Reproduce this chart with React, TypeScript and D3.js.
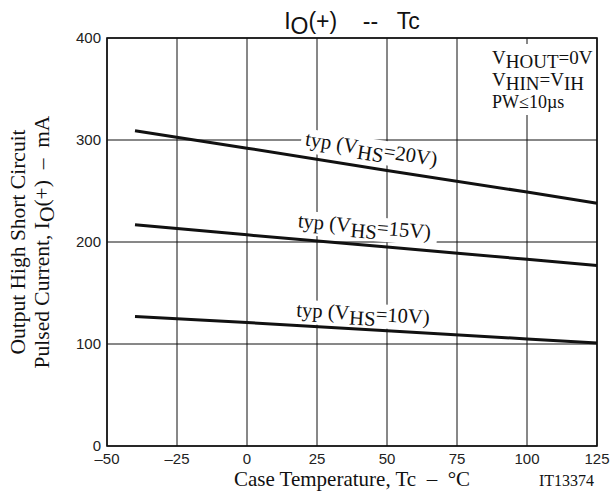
import React from "react";
import * as d3 from "d3";

const xTicks = [-50, -25, 0, 25, 50, 75, 100, 125];
const xTickLabels = ["–50", "–25", "0", "25", "50", "75", "100", "125"];
const yTicks = [0, 100, 200, 300, 400];

const temps = [-40, 0, 50, 100, 125];
const seriesNames = ["20V", "15V", "10V"];
const vhs20 = [309, 292, 270, 249, 238];
const vhs15 = [217, 207, 195, 183, 177];
const vhs10 = [127, 121, 113, 105, 101];
const labelStartTemps = [20.5, 18, 17.5];

const W = 613, H = 497;
const L = 107, R = 597, T = 38, B = 446;

export default function App() {
  const x = d3.scaleLinear().domain([-50, 125]).range([L, R]);
  const y = d3.scaleLinear().domain([0, 400]).range([B, T]);
  const line = d3.line<[number, number]>().x(d => x(d[0])).y(d => y(d[1]));
  const series = [vhs20, vhs15, vhs10];
  const serif = "'Liberation Serif', 'Times New Roman', serif";
  const sans = "'Liberation Sans', Arial, sans-serif";

  const labelInfo = series.map((vals, i) => {
    const t0 = labelStartTemps[i];
    const interp = d3.scaleLinear().domain(temps).range(vals);
    const px = x(t0);
    const py = y(interp(t0));
    const dx = x(temps[temps.length - 1]) - x(temps[0]);
    const dy = y(vals[vals.length - 1]) - y(vals[0]);
    const ang = (Math.atan2(dy, dx) * 180) / Math.PI;
    const off = [12, 12, 9][i];
    return { px, py: py - off, ang, name: seriesNames[i] };
  });

  return (
    <svg width={W} height={H} style={{ position: "absolute", left: 0, top: 0, background: "#fff" }}>
      <rect x={0} y={0} width={W} height={H} fill="#fff" />
      {/* grid */}
      {xTicks.map(t => (
        <line key={"gx" + t} x1={x(t)} x2={x(t)} y1={T} y2={B} stroke="#111" strokeWidth={1} />
      ))}
      {yTicks.map(t => (
        <line key={"gy" + t} x1={L} x2={R} y1={y(t)} y2={y(t)} stroke="#111" strokeWidth={1} />
      ))}
      {/* label backgrounds */}
      {labelInfo.map(l => (
        <g key={"lb" + l.name} transform={`translate(${l.px},${l.py}) rotate(${l.ang})`}>
          <rect x={-4} y={-17} width={144} height={24} fill="#fff" />
        </g>
      ))}
      {/* legend box background */}
      <rect x={487} y={44} width={109} height={71} fill="#fff" />
      {/* curves */}
      {series.map((vals, i) => (
        <path key={"s" + i} d={line(temps.map((t, j) => [t, vals[j]]) as [number, number][]) || ""}
          fill="none" stroke="#111" strokeWidth={3} />
      ))}
      {/* curve labels */}
      {labelInfo.map(l => (
        <g key={"lt" + l.name} transform={`translate(${l.px},${l.py}) rotate(${l.ang})`}>
          <text x={0} y={0} fontFamily={serif} fontSize={20.6} fill="#111">
            typ (V<tspan dy={5}>HS</tspan><tspan dy={-5}>={l.name})</tspan>
          </text>
        </g>
      ))}
      {/* border */}
      <rect x={L} y={T} width={R - L} height={B - T} fill="none" stroke="#111" strokeWidth={1.6} />
      {/* legend */}
      <text x={492} y={64} fontFamily={serif} fontSize={19} fill="#111">
        V<tspan dy={4}>HOUT</tspan><tspan dy={-4}>=0V</tspan>
      </text>
      <text x={492} y={86} fontFamily={serif} fontSize={19} fill="#111">
        V<tspan dy={4}>HIN</tspan><tspan dy={-4}>=V</tspan><tspan dy={4}>IH</tspan>
      </text>
      <text x={492} y={108} fontFamily={serif} fontSize={18} fill="#111">
        PW≤10µs
      </text>
      {/* y tick labels */}
      {yTicks.map(t => (
        <text key={"yl" + t} x={L - 6} y={y(t) + 5} textAnchor="end" fontFamily={sans} fontSize={15} fill="#222">
          {t}
        </text>
      ))}
      {/* x tick labels */}
      {xTicks.map((t, i) => (
        <text key={"xl" + t} x={x(t)} y={464} textAnchor="middle" fontFamily={sans} fontSize={15} fill="#222">
          {xTickLabels[i]}
        </text>
      ))}
      {/* title */}
      <text x={(L + R) / 2} y={29} textAnchor="middle" fontFamily={sans} fontSize={23} fill="#111" style={{ whiteSpace: "pre" }}>
        I<tspan dy={5}>O</tspan><tspan dy={-5}>(+)    --   Tc</tspan>
      </text>
      {/* axis titles */}
      <text x={352} y={486} textAnchor="middle" fontFamily={serif} fontSize={21} fill="#111" style={{ whiteSpace: "pre" }}>
        Case Temperature, Tc  –  °C
      </text>
      <text x={539} y={486} fontFamily={serif} fontSize={16} fill="#111">IT13374</text>
      <g transform={`translate(25,${(T + B) / 2}) rotate(-90)`}>
        <text x={0} y={0} textAnchor="middle" fontFamily={serif} fontSize={21.5} fill="#111">
          Output High Short Circuit
        </text>
      </g>
      <g transform={`translate(49,${(T + B) / 2}) rotate(-90)`}>
        <text x={0} y={0} textAnchor="middle" fontFamily={serif} fontSize={21.5} fill="#111" style={{ whiteSpace: "pre" }}>
          Pulsed Current, I<tspan dy={5}>O</tspan><tspan dy={-5}>(+)  –  mA</tspan>
        </text>
      </g>
    </svg>
  );
}
